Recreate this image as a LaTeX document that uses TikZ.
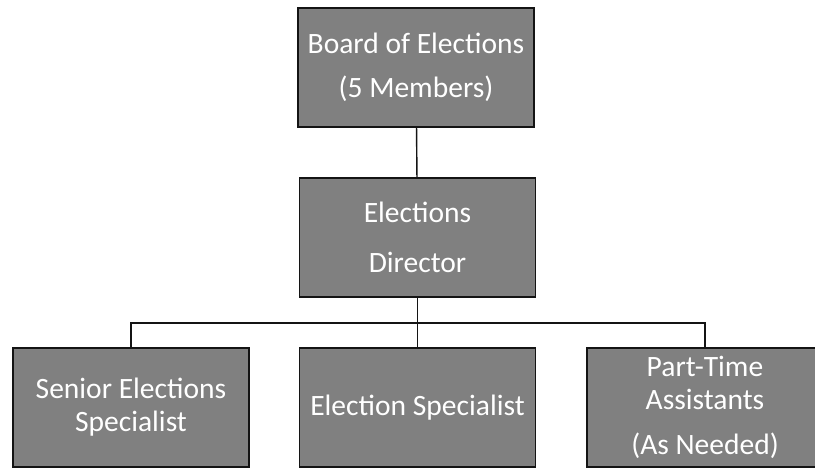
\documentclass[tikz,border=0pt]{standalone}
\usepackage{fontspec}
\setmainfont{Carlito}
\usetikzlibrary{positioning}
\definecolor{orgFill}{RGB}{128,128,128}
\definecolor{orgLine}{RGB}{20,20,20}

\begin{document}
\begin{tikzpicture}[
    x=0.025cm, y=-0.025cm,
    office/.style={rectangle, draw=orgLine, line width=0.8pt, fill=orgFill, text=white,
      minimum width=5.9cm, minimum height=2.975cm, align=center,
      font=\fontsize{21}{31}\selectfont},
    tight/.style={font=\fontsize{21}{23.5}\selectfont},
    link/.style={draw=orgLine, line width=1pt}
]
  \useasboundingbox (0,0) rectangle (815,467);
  \node[office] (board) at (416,67.5) {Board of Elections\\(5 Members)};
  \node[office] (director) at (417.5,237.5) {Elections\\[5pt]Director};
  \node[office, tight] (senior) at (131,407.5) {Senior Elections\\Specialist};
  \node[office] (specialist) at (417.5,407.5) {Election Specialist};
  \node[office, tight] (parttime) at (705,407.5) {Part-Time\\Assistants\\[8pt](As Needed)};
  \coordinate (bar) at (417.5,323);

  \draw[link] (board) -- (director);
  \draw[link] (director) -- (bar);
  \draw[link] (bar) -| (senior.north);
  \draw[link] (bar) -- (specialist.north);
  \draw[link] (bar) -| (parttime.north);
\end{tikzpicture}
\end{document}
